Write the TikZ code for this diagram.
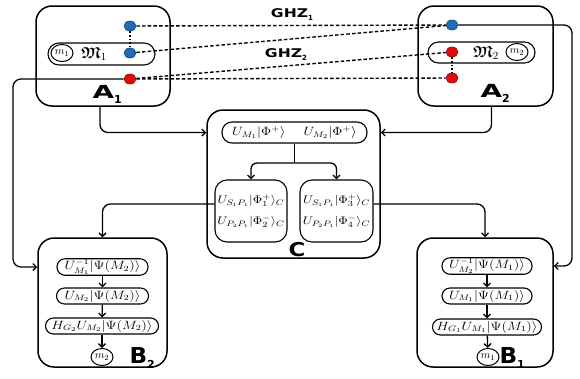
\documentclass[tikz,border=0pt]{standalone}
\usepackage{amsmath}
\usepackage{amssymb}
\usepackage{graphicx}
\usepackage{fontspec}
\newfontfamily\labfont{DejaVu Sans}
\usetikzlibrary{arrows.meta,shapes.geometric}

\definecolor{qblue}{HTML}{1F6DB8}
\definecolor{qred}{HTML}{E00A0A}

% horizontally widened math and label text
\newcommand{\wmath}[1]{\scalebox{1.2}[1]{$#1$}}
\newcommand{\wlab}[4]{{\labfont\bfseries\fontsize{#1}{#1}\selectfont\scalebox{#2}[1]{#3}\raisebox{-5pt}{\fontsize{11}{11}\selectfont #4}}}

\tikzset{
  outer/.style={draw, line width=1.5pt, rounded corners=16pt, inner sep=0pt},
  inbox/.style={draw, line width=1.1pt, rounded corners=8pt, inner sep=1pt,
                font=\fontsize{12}{14}\selectfont},
  pill/.style={inbox, minimum height=16pt, rounded corners=8pt},
  mcirc/.style={ellipse, draw, line width=1pt, inner sep=0pt,
                minimum width=22pt, minimum height=17pt, font=\fontsize{11}{11}\selectfont},
  qdot/.style={ellipse, draw=#1!60!black, fill=#1, line width=0.6pt,
               minimum width=12pt, minimum height=10pt, inner sep=0pt},
  conn/.style={line width=1.3pt, rounded corners=8pt,
               -{Straight Barb[length=3.5pt,width=7pt]}},
  plain/.style={line width=1.3pt},
  ghz/.style={line width=1.4pt, dash pattern=on 3.5pt off 2.2pt},
  link/.style={line width=1.6pt, dotted},
}

\begin{document}
\begin{tikzpicture}[x=1pt,y=-1pt]
\useasboundingbox (0,0) rectangle (580,378);

% ---------- party A1 ----------
\node[outer, minimum width=134pt, minimum height=100pt] (A1) at (103,56) {};
\node[inbox, minimum width=107pt, minimum height=22pt, rounded corners=11pt] (A1in) at (101.5,54) {};
\node[mcirc] (cm1) at (62,53) {$m_1$};
\node[font=\fontsize{16}{16}\selectfont] (M1) at (94,54) {$\boldsymbol{\mathfrak{M}}_1$};
\node[qdot=qblue] (a1t) at (130,26) {};
\node[qdot=qblue] (a1m) at (130,53) {};
\node[qdot=qred]  (a1r) at (130,79) {};
\node[anchor=base west] (A1lab) at (89,98) {\wlab{18}{1.55}{A}{1}};

% ---------- party A2 ----------
\node[outer, minimum width=135pt, minimum height=100pt] (A2) at (485.5,56) {};
\node[inbox, minimum width=107pt, minimum height=21pt, rounded corners=10.5pt] (A2in) at (481.5,52.5) {};
\node[mcirc] (cm2) at (517,52) {$m_2$};
\node[font=\fontsize{16}{16}\selectfont] (M2) at (486,53) {$\boldsymbol{\mathfrak{M}}_2$};
\node[qdot=qblue] (a2t) at (452,25) {};
\node[qdot=qred]  (a2m) at (452,52) {};
\node[qdot=qred]  (a2r) at (452,78) {};
\node[anchor=base west] (A2lab) at (477,97) {\wlab{18}{1.55}{A}{2}};

% ---------- shared GHZ states ----------
\draw[ghz] (a1t) -- (a2t);
\draw[ghz] (a1m) -- (a2t);
\draw[ghz] (a1r) -- (a2m);
\draw[ghz] (a1r) -- (a2r);
\draw[link] (a1t) -- (a1m);
\draw[link] (a2m) -- (a2r);
\node (ghz1) at (292,15) {\labfont\bfseries\fontsize{12}{12}\selectfont\scalebox{1.3}[1]{GHZ}\raisebox{-3pt}{\fontsize{7}{7}\selectfont 1}};
\node (ghz2) at (286,55) {\labfont\bfseries\fontsize{12}{12}\selectfont\scalebox{1.3}[1]{GHZ}\raisebox{-3pt}{\fontsize{7}{7}\selectfont 2}};

% ---------- party C ----------
\node[outer, minimum width=173pt, minimum height=148pt] (C) at (293.5,184) {};
\node[inbox, minimum width=145pt, minimum height=21pt, rounded corners=10pt] (Ctop) at (294.5,132.5)
  {\wmath{U_{M_1}|\Phi^{+}\rangle}\hspace{18pt}\wmath{U_{M_2}|\Phi^{+}\rangle}};
\node[inbox, minimum width=72pt, minimum height=62pt, rounded corners=12pt, align=center,
      font=\fontsize{11}{13}\selectfont] (CL) at (251,211)
  {\wmath{U_{S_1P_1}|\Phi_1^{+}\rangle_C}\\[8pt]\wmath{U_{P_2P_1}|\Phi_2^{-}\rangle_C}};
\node[inbox, minimum width=73pt, minimum height=62pt, rounded corners=12pt, align=center,
      font=\fontsize{11}{13}\selectfont] (CR) at (336.5,211)
  {\wmath{U_{S_1P_1}|\Phi_3^{+}\rangle_C}\\[8pt]\wmath{U_{P_2P_1}|\Phi_4^{-}\rangle_C}};
\node[anchor=base] (Clab) at (297,256) {\wlab{19}{1.2}{C}{}};
\coordinate (split) at (294.5,163);
\draw[plain] (Ctop.south) -- (split);
\draw[conn, rounded corners=6pt] (split) -| (CL.north);
\draw[conn, rounded corners=6pt] (split) -| (CR.north);

% ---------- party B2 ----------
\node[outer, minimum width=129pt, minimum height=129pt] (B2) at (102.5,302.5) {};
\node[pill, minimum width=91pt] (B2a) at (102.5,267) {\wmath{U^{-1}_{M_1}|\Psi(M_2)\rangle}};
\node[pill, minimum width=92pt] (B2b) at (102.5,296) {\wmath{U_{M_2}|\Psi(M_2)\rangle}};
\node[pill, minimum width=113pt] (B2c) at (102,326) {\wmath{H_{G_2}U_{M_2}|\Psi(M_2)\rangle}};
\node[mcirc] (m2) at (102,357) {$m_2$};
\node[anchor=base west] (B2lab) at (126,363) {\wlab{22}{1.05}{B}{2}};
\draw[conn] (B2a) -- (B2b);
\draw[conn] (B2b) -- (B2c);
\draw[conn] (B2c) -- (m2);

% ---------- party B1 ----------
\node[outer, minimum width=136pt, minimum height=129pt] (B1) at (485,302.5) {};
\node[pill, minimum width=90pt] (B1a) at (487,266) {\wmath{U^{-1}_{M_2}|\Psi(M_1)\rangle}};
\node[pill, minimum width=90pt] (B1b) at (487,296) {\wmath{U_{M_1}|\Psi(M_1)\rangle}};
\node[pill, minimum width=109pt] (B1c) at (487,327) {\wmath{H_{G_1}U_{M_1}|\Psi(M_1)\rangle}};
\node[mcirc] (m1) at (488,357) {$m_1$};
\node[anchor=base west] (B1lab) at (496,363) {\wlab{22}{1.05}{B}{1}};
\draw[conn] (B1a) -- (B1b);
\draw[conn] (B1b) -- (B1c);
\draw[conn] (B1c) -- (m1);

% ---------- classical channels ----------
\coordinate (L) at (13,0);
\coordinate (R) at (572,0);
\draw[conn] (a1r) -| (L |- B2a) -- (B2.west |- B2a);
\draw[conn] (a2t) -| (R |- B1a) -- (B1.east |- B1a);
\draw[conn] ([xshift=-3pt]A1.south) |- (C.west |- Ctop);
\draw[conn] ([xshift=6pt]A2.south) |- (C.east |- Ctop);
\draw[conn] ([yshift=7pt]CL.west) -| (B2.north);
\draw[conn] ([yshift=7pt]CR.east) -| (B1.north);
\end{tikzpicture}
\end{document}
